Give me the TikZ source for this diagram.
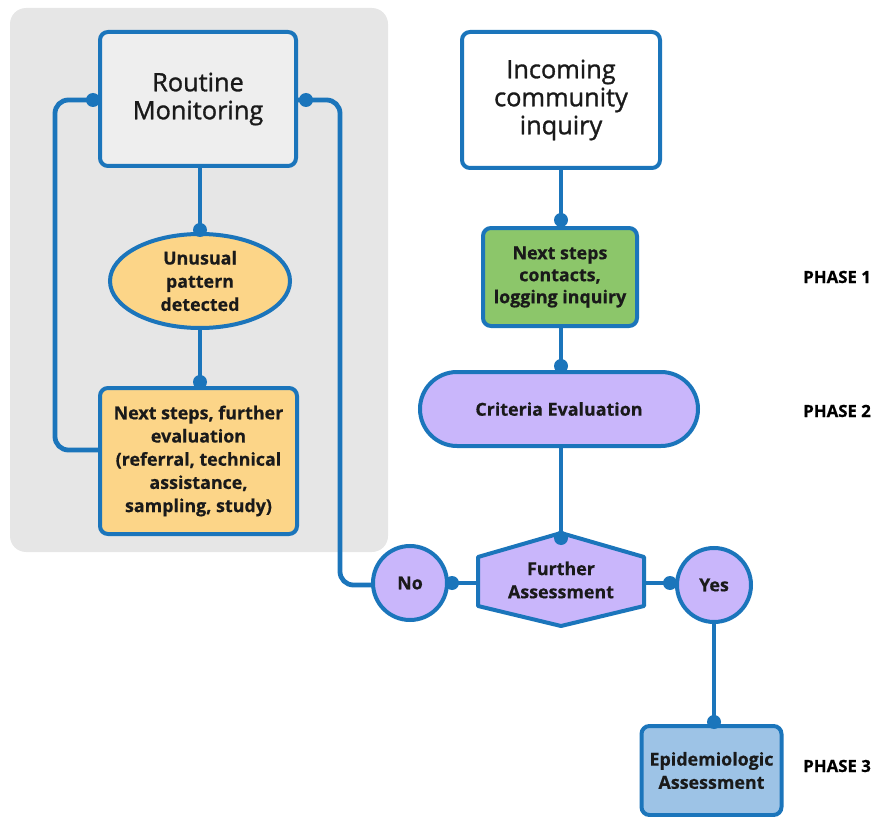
\documentclass[tikz,border=0pt]{standalone}
\usepackage{fontspec}
\setmainfont{Open Sans}[BoldFeatures={FakeBold=0.5}]
\newfontfamily\bigfont[FakeBold=1.2]{Open Sans}
\usetikzlibrary{shapes.geometric,shapes.misc}
\definecolor{lblue}{HTML}{1B75BB}
\definecolor{panel}{HTML}{E6E6E6}
\definecolor{rmfill}{HTML}{EEEEEE}
\definecolor{orng}{HTML}{FCD588}
\definecolor{grn}{HTML}{8CC66A}
\definecolor{lav}{HTML}{C9B6FB}
\definecolor{epi}{HTML}{9DC3E6}
\definecolor{txt}{HTML}{1A1A1A}
\tikzset{
  boxbase/.style={draw=lblue, line width=3pt, rounded corners=6pt, align=center, text=txt, inner sep=0pt},
  bigtext/.style={font=\bigfont\fontsize{19}{21}\selectfont},
  boldtext/.style={font=\fontsize{13.4}{17.4}\selectfont\bfseries},
  greentext/.style={font=\fontsize{13.4}{16.5}\selectfont\bfseries},
  conn/.style={draw=lblue, line width=3.6pt},
  dot/.style={fill=lblue},
  phase/.style={font=\fontsize{12.6}{14}\selectfont\bfseries, text=black, anchor=west, inner sep=0pt}
}
\begin{document}
\begin{tikzpicture}[x=0.75pt,y=-0.75pt]
\useasboundingbox (0,0) rectangle (876,817);
% gray panel
\fill[panel, rounded corners=12pt] (10,8) rectangle (388,552);
% connectors first (behind nodes)
\draw[conn] (200,166) -- (200,234);
\draw[conn] (200,328) -- (200,388);
\draw[conn, rounded corners=10pt] (100,450) -- (55,450) -- (55,100) -- (100,100);
\draw[conn, rounded corners=10pt] (296,100) -- (340,100) -- (340,585) -- (374,585);
\draw[conn] (561,168) -- (561,228);
\draw[conn] (561,326) -- (561,372);
\draw[conn] (561,446) -- (561,535);
\draw[conn] (478,583) -- (447,583);
\draw[conn] (644,583) -- (677,583);
\draw[conn] (714,622) -- (714,726);
% nodes
\node[boxbase, bigtext, fill=rmfill, minimum width=196*0.75pt, minimum height=134*0.75pt] (rm) at (198,99) {Routine\\Monitoring};
\node[draw=lblue, line width=3pt, ellipse, fill=orng, boldtext, align=center, text=txt, minimum width=180*0.75pt, minimum height=94*0.75pt, inner sep=0pt] (up) at (200,281) {Unusual\\pattern\\detected};
\node[boxbase, boldtext, fill=orng, minimum width=197*0.75pt, minimum height=146*0.75pt] (ns) at (198.5,461) {Next steps, further\\evaluation\\(referral, technical\\assistance,\\sampling, study)};
\node[boxbase, bigtext, fill=white, minimum width=198*0.75pt, minimum height=136*0.75pt] (ci) at (561,100) {Incoming\\community\\inquiry};
\node[boxbase, greentext, fill=grn, minimum width=154*0.75pt, minimum height=98*0.75pt] (gs) at (560,277) {Next steps\\contacts,\\logging inquiry};
\node[draw=lblue, line width=3pt, rounded rectangle, fill=lav, boldtext, text=txt, minimum width=278*0.75pt, minimum height=74*0.75pt, inner sep=0pt] (ce) at (559,409) {Criteria Evaluation};
\draw[draw=lblue, line width=3pt, fill=lav, line join=round] (561,533) -- (644,557) -- (644,606) -- (561,626) -- (478,606) -- (478,557) -- cycle;
\node[boldtext, text=txt, align=center, inner sep=0pt, minimum width=166*0.75pt, minimum height=49*0.75pt] (fa) at (561,580) {Further\\Assessment};
\node[draw=lblue, line width=3pt, circle, fill=lav, boldtext, text=txt, minimum size=74*0.75pt, inner sep=0pt] (no) at (410,583) {No};
\node[draw=lblue, line width=3pt, circle, fill=lav, boldtext, text=txt, minimum size=74*0.75pt, inner sep=0pt] (yes) at (714,585) {Yes};
\node[boxbase, boldtext, fill=epi, minimum width=140*0.75pt, minimum height=89*0.75pt] (ea) at (711.5,770.5) {Epidemiologic\\Assessment};
% phase labels
\node[phase] (p1) at (803,277) {PHASE 1};
\node[phase] (p2) at (803,411) {PHASE 2};
\node[phase] (p3) at (803,766) {PHASE 3};
% junction dots
\fill[dot] (200,230) circle (7*0.75pt);
\fill[dot] (200,382) circle (7*0.75pt);
\fill[dot] (93,100) circle (7*0.75pt);
\fill[dot] (306,100) circle (7*0.75pt);
\fill[dot] (561,220) circle (7*0.75pt);
\fill[dot] (561,366) circle (7*0.75pt);
\fill[dot] (561,538) circle (7*0.75pt);
\fill[dot] (452,583) circle (7*0.75pt);
\fill[dot] (670,583) circle (7*0.75pt);
\fill[dot] (714,722) circle (7*0.75pt);
\end{tikzpicture}
\end{document}
